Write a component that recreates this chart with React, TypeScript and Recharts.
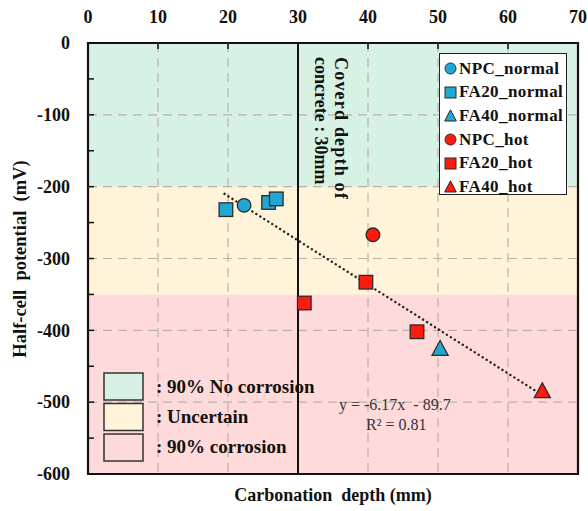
import React from "react";
import {
  ComposedChart,
  Scatter,
  XAxis,
  YAxis,
  ReferenceArea,
  ReferenceLine,
} from "recharts";

// carbonation depth (mm) vs half-cell potential (mV)
const npcNormal = [{ x: 22.3, y: -226 }];
const fa20Normal = [
  { x: 19.7, y: -232 },
  { x: 25.8, y: -222 },
  { x: 26.9, y: -217 },
];
const fa40Normal = [{ x: 50.3, y: -426 }];
const npcHot = [{ x: 40.7, y: -267 }];
const fa20Hot = [
  { x: 30.9, y: -362 },
  { x: 39.7, y: -333 },
  { x: 47.0, y: -402 },
];
const fa40Hot = [{ x: 64.9, y: -485 }];

// fitted line y = -6.17x - 89.7, end points
const trendLine = [
  { x: 19.5, y: -210 },
  { x: 65.2, y: -492 },
];

const xTicks = [0, 10, 20, 30, 40, 50, 60, 70];
const yTicks = [0, -50, -100, -150, -200, -250, -300, -350, -400, -450, -500, -550, -600];
const xGrid = [10, 20, 30, 40, 50, 60];
const yGrid = [-100, -200, -300, -400, -500];

const zoneBounds = [
  [0, -200],
  [-200, -350],
  [-350, -600],
];
const zoneLabels = [": 90% No corrosion", ": Uncertain", ": 90% corrosion"];
const coverDepth = 30;

const ZONE_COLORS = ["#d7f2e4", "#fff4d9", "#ffdada"];
const BLUE = "#22a7d3";
const RED = "#ff1a10";
const EDGE = "#2a2a2a";
const FONT = "'Liberation Serif', 'Times New Roman', serif";

const series = [
  { name: "NPC_normal", data: npcNormal, shape: "circle", color: BLUE },
  { name: "FA20_normal", data: fa20Normal, shape: "square", color: BLUE },
  { name: "FA40_normal", data: fa40Normal, shape: "triangle", color: BLUE },
  { name: "NPC_hot", data: npcHot, shape: "circle", color: RED },
  { name: "FA20_hot", data: fa20Hot, shape: "square", color: RED },
  { name: "FA40_hot", data: fa40Hot, shape: "triangle", color: RED },
];

function markerShape(shape: string, color: string) {
  return (p: any) => {
    const { cx, cy } = p;
    if (shape === "circle") {
      return <circle cx={cx} cy={cy} r={6.8} fill={color} stroke={EDGE} strokeWidth={1.3} />;
    }
    if (shape === "square") {
      return <rect x={cx - 6.8} y={cy - 6.8} width={13.6} height={13.6} fill={color} stroke={EDGE} strokeWidth={1.3} />;
    }
    return (
      <polygon
        points={`${cx},${cy - 8.5} ${cx + 8},${cy + 6.3} ${cx - 8},${cy + 6.3}`}
        fill={color}
        stroke={EDGE}
        strokeWidth={1.3}
      />
    );
  };
}

function XTick(props: any) {
  const { x, y, payload } = props;
  return (
    <g>
      <line x1={x} x2={x} y1={y + 19} y2={y + 25} stroke="#111" strokeWidth={1.5} />
      <text x={x} y={y - 1} textAnchor="middle" fontFamily={FONT} fontWeight="bold" fontSize={18} fill="#111">
        {payload.value}
      </text>
    </g>
  );
}

function YTick(props: any) {
  const { x, y, payload } = props;
  const major = payload.value % 100 === 0;
  return (
    <g>
      <line x1={x + 18} x2={x + 24} y1={y} y2={y} stroke="#111" strokeWidth={1.5} />
      {major && (
        <text x={x} y={y} dy="0.35em" textAnchor="end" fontFamily={FONT} fontWeight="bold" fontSize={18} fill="#111">
          {payload.value}
        </text>
      )}
    </g>
  );
}

function Marker({ shape, color }: { shape: string; color: string }) {
  return (
    <svg width={13} height={13} style={{ marginRight: 2, flex: "none" }}>
      {shape === "circle" && <circle cx={6.5} cy={6.5} r={5.5} fill={color} stroke={EDGE} strokeWidth={1} />}
      {shape === "square" && <rect x={1} y={1} width={11} height={11} fill={color} stroke={EDGE} strokeWidth={1} />}
      {shape === "triangle" && <polygon points="6.5,0.8 12.3,12 0.7,12" fill={color} stroke={EDGE} strokeWidth={1} />}
    </svg>
  );
}

function SeriesLegend() {
  return (
    <div
      style={{
        position: "absolute",
        left: 439,
        top: 53,
        width: 128,
        height: 142,
        background: "#fff",
        border: "1.5px solid #222",
        padding: "3px 0 0 4px",
        boxSizing: "border-box",
      }}
    >
      {series.map((s) => (
        <div
          key={s.name}
          style={{
            display: "flex",
            alignItems: "center",
            height: 23.6,
            fontFamily: FONT,
            fontWeight: "bold",
            fontSize: 17,
            color: "#111",
            letterSpacing: 0.4,
          }}
        >
          <Marker shape={s.shape} color={s.color} />
          {s.name}
        </div>
      ))}
    </div>
  );
}

function CoverLabel(props: any) {
  const { viewBox } = props;
  const tx = viewBox.x + 37;
  const ty = viewBox.y + 14;
  return (
    <text
      transform={`translate(${tx},${ty}) rotate(90)`}
      fontFamily={FONT}
      fontWeight="bold"
      fontSize={18}
      fill="#111"
    >
      <tspan x={0} y={0} letterSpacing={1.2}>Coverd depth of</tspan>
      <tspan x={0} y={20}>concrete : 30mm</tspan>
    </text>
  );
}

export default function App() {
  return (
    <div style={{ position: "absolute", left: 0, top: 0, width: 588, height: 511, background: "#fff" }}>
      <ComposedChart width={588} height={511} margin={{ top: 13, right: 10, bottom: 37, left: 0 }}>
        <XAxis
          dataKey="x"
          type="number"
          orientation="top"
          domain={[0, 70]}
          ticks={xTicks}
          height={30}
          axisLine={false}
          tickLine={false}
          tickSize={0}
          tickMargin={19}
          tick={<XTick />}
        />
        <YAxis
          dataKey="y"
          type="number"
          domain={[-600, 0]}
          ticks={yTicks}
          width={88}
          axisLine={false}
          tickLine={false}
          tickSize={0}
          tickMargin={18}
          tick={<YTick />}
          interval={0}
        />
        {zoneBounds.map(([top, bottom], i) => (
          <ReferenceArea key={i} y1={bottom} y2={top} x1={0} x2={70} fill={ZONE_COLORS[i]} fillOpacity={1} stroke="none" />
        ))}
        {xGrid.map((v) => (
          <ReferenceLine key={"gx" + v} x={v} stroke="#b9b1a9" strokeDasharray="9 6" strokeWidth={1.2} />
        ))}
        {yGrid.map((v) => (
          <ReferenceLine key={"gy" + v} y={v} stroke="#b9b1a9" strokeDasharray="9 6" strokeWidth={1.2} />
        ))}
        <ReferenceArea x1={0} x2={70} y1={-600} y2={0} fill="none" fillOpacity={0} stroke="#1a1010" strokeWidth={2.2} />
        <ReferenceLine x={coverDepth} stroke="#111" strokeWidth={2} label={<CoverLabel />} />
        <Scatter
          data={trendLine}
          line={{ stroke: "#222", strokeWidth: 2.4, strokeDasharray: "0.1 4.6", strokeLinecap: "round" }}
          shape={() => null}
          legendType="none"
          isAnimationActive={false}
        />
        {series.map((s) => (
          <Scatter
            key={s.name}
            name={s.name}
            data={s.data}
            shape={markerShape(s.shape, s.color)}
            fill={s.color}
            isAnimationActive={false}
          />
        ))}
      </ComposedChart>
      <SeriesLegend />
      <svg
        width={588}
        height={511}
        style={{ position: "absolute", left: 0, top: 0, pointerEvents: "none" }}
      >
        <text
          transform="translate(26,259) rotate(-90)"
          textAnchor="middle"
          fontFamily={FONT}
          fontWeight="bold"
          fontSize={18.5}
          fill="#111"
          style={{ whiteSpace: "pre" }}
        >
          Half-cell  potential  (mV)
        </text>
        <text x={333} y={501} textAnchor="middle" fontFamily={FONT} fontWeight="bold" fontSize={18} fill="#111" style={{ whiteSpace: "pre" }}>
          Carbonation  depth (mm)
        </text>
        {zoneLabels.map((label, i) => (
          <g key={label}>
            <rect
              x={104}
              y={373 + i * 30.5}
              width={39}
              height={27}
              fill={ZONE_COLORS[i]}
              stroke="#333"
              strokeWidth={1.5}
            />
            <text
              x={156}
              y={393 + i * 30}
              fontFamily={FONT}
              fontWeight="bold"
              fontSize={19}
              fill="#111"
              style={{ whiteSpace: "pre" }}
            >
              {label}
            </text>
          </g>
        ))}
        <text x={339} y={410} fontFamily={FONT} fontSize={16} fill="#333" style={{ whiteSpace: "pre" }}>
          y = -6.17x  - 89.7
        </text>
        <text x={366} y={430} fontFamily={FONT} fontSize={16} fill="#333">
          R² = 0.81
        </text>
      </svg>
    </div>
  );
}
